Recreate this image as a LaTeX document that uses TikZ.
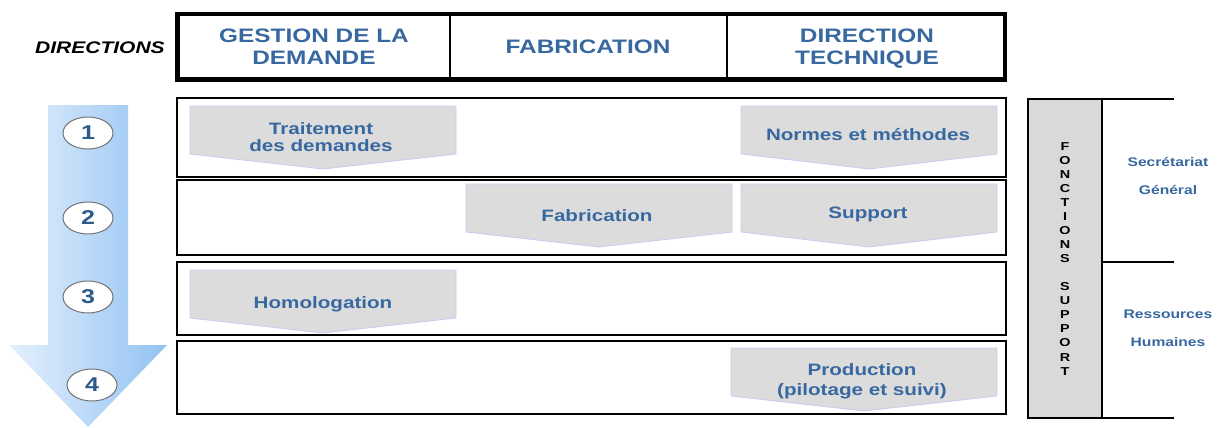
\documentclass[tikz,border=0pt]{standalone}
\usepackage{fontspec}
\setmainfont{Liberation Sans}[FakeStretch=1.25]
\usetikzlibrary{shapes.geometric}
\definecolor{hdrblue}{HTML}{3868A0}
\definecolor{numblue}{HTML}{2C5A8C}
\definecolor{chevfill}{HTML}{DCDCDC}
\definecolor{chevedge}{HTML}{C9C9F4}
\definecolor{panelgray}{HTML}{D9D9D9}
\definecolor{arrowlight}{HTML}{E4F0FD}
\definecolor{arrowdark}{HTML}{92C2F2}
\tikzset{
 hdrbox/.style={line width=4.5pt},
 rowbox/.style={line width=2.2pt},
 chev/.style={fill=chevfill, draw=chevedge, line width=0.8pt},
 chevtext/.style={text=hdrblue, font=\bfseries\fontsize{16.5}{17}\selectfont, align=center, inner sep=0pt},
 hdrtext/.style={text=hdrblue, font=\bfseries\fontsize{19.5}{22.5}\selectfont, align=center, inner sep=0pt},
 numell/.style={ellipse, draw=black!55, fill=white, line width=1pt, minimum width=50pt, minimum height=32pt, inner sep=0pt, text=numblue, font=\bfseries\fontsize{20}{20}\selectfont},
 sidetext/.style={text=hdrblue, font=\bfseries\fontsize{12.5}{28}\selectfont, align=center, inner sep=0pt},
 panelline/.style={line width=1.5pt},
}
\newcommand\chevron[3]{%
  \draw[chev] (#1,#3) -- (#2,#3) -- (#2,#3+48) -- ({(#1+#2)/2},#3+63) -- (#1,#3+48) -- cycle;}

\begin{document}
\begin{tikzpicture}[x=1pt,y=-1pt]
\useasboundingbox (0,0) rectangle (1224,428);
% big process arrow
\shade[left color=arrowlight, right color=arrowdark]
  (48,105) -- (128,105) -- (128,345) -- (167,345) -- (88,427) -- (9,345) -- (48,345) -- cycle;
\node[numell] (n1) at (88,133) {1};
\node[numell] (n2) at (88,218) {2};
\node[numell] (n3) at (88,297) {3};
\node[numell] (n4) at (92,385) {4};

% header
\node[font=\bfseries\itshape\fontsize{16.8}{16.8}\selectfont, anchor=base, inner sep=0pt] (dir) at (100,53.5) {DIRECTIONS};
\draw[hdrbox] (177.5,14) rectangle (1005,79.5);
\draw[line width=1.5pt] (450,14) -- (450,79.5);
\draw[line width=1.5pt] (727,14) -- (727,79.5);
\node[hdrtext, anchor=north] (h1) at (314,28.3) {GESTION DE LA\\DEMANDE};
\node[hdrtext, anchor=base] (h2) at (588,54) {FABRICATION};
\node[hdrtext, anchor=north] (h3) at (867,28.3) {DIRECTION\\TECHNIQUE};

% rows
\draw[rowbox] (177,98) rectangle (1006,177);
\draw[rowbox] (177,180) rectangle (1006,255);
\draw[rowbox] (177,262) rectangle (1006,335);
\draw[rowbox] (177,341) rectangle (1006,414);

% chevrons
\chevron{190}{456}{106}
\chevron{741}{997}{106}
\chevron{466}{732}{184}
\chevron{741}{997}{184}
\chevron{190}{456}{270}
\chevron{731}{997}{348}
\node[chevtext, anchor=north] (t1) at (321,122) {Traitement\\des demandes};
\node[chevtext, anchor=base] (t2) at (868,140) {Normes et méthodes};
\node[chevtext, anchor=base] (t3) at (597,221) {Fabrication};
\node[chevtext, anchor=base] (t4) at (868,218) {Support};
\node[chevtext, anchor=base] (t5) at (323,308) {Homologation};
\node[chevtext, anchor=north, font=\bfseries\fontsize{16.5}{20.5}\selectfont] (t6) at (862,363) {Production\\(pilotage et suivi)};

% support functions panel
\draw[panelline, fill=panelgray] (1028,99) rectangle (1102,418);
\draw[panelline] (1102,99) -- (1174,99);
\draw[panelline] (1102,262) -- (1174,262);
\draw[panelline] (1102,418) -- (1174,418);
\node[font=\bfseries\fontsize{11.5}{14.06}\selectfont, align=center, inner sep=0pt, anchor=north] (fs) at (1065,142)
  {F\\O\\N\\C\\T\\I\\O\\N\\S\\[14.06pt]S\\U\\P\\P\\O\\R\\T};
\node[sidetext, anchor=north] (sg) at (1168,157) {Secrétariat\\Général};
\node[sidetext, anchor=north] (rh) at (1168,310) {Ressources\\Humaines};
\end{tikzpicture}
\end{document}
